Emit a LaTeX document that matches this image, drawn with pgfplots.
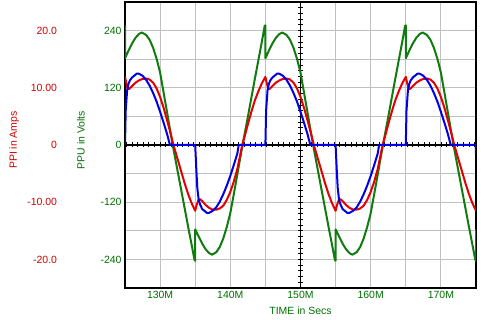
\documentclass[border=0pt]{standalone}
\usepackage{fontspec}
\setmainfont{Liberation Sans}
\usepackage{pgfplots}
\pgfplotsset{compat=1.18}
\definecolor{lred}{RGB}{228,0,0}
\definecolor{tred}{RGB}{204,0,0}
\definecolor{lgreen}{RGB}{16,124,16}
\definecolor{tgreen}{RGB}{0,112,0}
\definecolor{lblue}{RGB}{0,0,230}
\definecolor{gridgray}{RGB}{192,192,192}
\begin{document}
\begin{tikzpicture}[font=\fontsize{10.5}{12.6}\selectfont]
\useasboundingbox (0,0) rectangle (495bp,320bp);
\pgfplotsset{common/.style={at={(125bp,32bp)}, anchor=south west, width=351bp, height=286bp, scale only axis,
  tick label style={font=\fontsize{10.5}{12.6}\selectfont}, label style={font=\fontsize{10.5}{12.6}\selectfont}}}
% grid, frame, volt labels
\begin{axis}[common, xmin=125, xmax=175, ymin=-300, ymax=300,
  xtick={130,140,150,160,170}, xticklabels={130M,140M,150M,160M,170M},
  minor xtick={125,135,145,155,165,175},
  ytick={-240,-120,0,120,240}, yticklabels={-240,-120,0,120,240},
  minor ytick={-300,-180,-60,60,180,300},
  grid=both, grid style={draw=gridgray, line width=0.9bp},
  major grid style={draw=gridgray, line width=0.9bp},
  minor grid style={draw=gridgray, line width=0.9bp},
  major tick length=0pt, minor tick length=0pt,
  tick label style={text=tgreen},
  axis line style={line width=1.2bp, black},
  xlabel={TIME in Secs}, xlabel style={text=tgreen, at={(axis description cs:0.5,0)}, anchor=base, yshift=-26bp},
  ylabel={PPU in Volts}, ylabel style={text=tgreen, at={(axis description cs:-0.1254,0.517)}, anchor=center},
]
\end{axis}
% centre axes with ticks (x shifted so that 150M is 0)
\begin{axis}[common, xmin=-25, xmax=25, ymin=-25, ymax=25,
  axis lines=middle, axis line style={-, line width=1.2bp, black},
  x axis line style={-}, y axis line style={-},
  xtick={-24.8,-24,...,24.8}, ytick={-24,-23,...,24},
  xticklabels={}, yticklabels={},
  major tick length=5bp, tick align=center, tick style={black, line width=0.8bp},
]
\end{axis}
% green: PPU (volts)
\begin{axis}[common, xmin=125, xmax=175, ymin=-300, ymax=300, hide axis]
\addplot[lgreen, line width=2bp, line join=round] coordinates {
(125,251)(125,182)(125.5,198)(126,213)(126.5,225)(127,233)(127.4,236)(128,231)(128.5,221)(129,204)(129.5,181)(130,152)(130.5,110)(131,68)(131.5,25)(131.8,0)(132,-16)(132.5,-55)(133,-94)(133.5,-133)(134,-172)(134.5,-210)(134.9,-241)(135,-243)(135,-177)(135.5,-192)(136,-207)(136.5,-219)(137,-227)(137.4,-230)(138,-225)(138.5,-214)(139,-196)(139.5,-172)(140,-143)(140.5,-103)(141,-62)(141.5,-20)(141.75,0)(142,20)(142.5,59)(143,99)(143.5,139)(144,178)(144.5,217)(144.9,250)(145,251)
(145,182)(145.5,198)(146,213)(146.5,225)(147,233)(147.4,236)(148,231)(148.5,221)(149,204)(149.5,181)(150,152)(150.5,110)(151,68)(151.5,25)(151.8,0)(152,-16)(152.5,-55)(153,-94)(153.5,-133)(154,-172)(154.5,-210)(154.9,-241)(155,-243)(155,-177)(155.5,-192)(156,-207)(156.5,-219)(157,-227)(157.4,-230)(158,-225)(158.5,-214)(159,-196)(159.5,-172)(160,-143)(160.5,-103)(161,-62)(161.5,-20)(161.75,0)(162,20)(162.5,59)(163,99)(163.5,139)(164,178)(164.5,217)(164.9,250)(165,251)
(165,182)(165.5,198)(166,213)(166.5,225)(167,233)(167.4,236)(168,231)(168.5,221)(169,204)(169.5,181)(170,152)(170.5,110)(171,68)(171.5,25)(171.8,0)(172,-16)(172.5,-55)(173,-94)(173.5,-133)(174,-172)(174.5,-210)(174.9,-241)(175,-243)(175,-177)
};
\end{axis}
% red and blue: PPI (amps)
\begin{axis}[common, xmin=125, xmax=175, ymin=-25, ymax=25,
  axis line style={draw=none}, xtick=\empty,
  ytick={-20,-10,0,10,20}, yticklabels={-20.0,-10.00,0,10.00,20.0},
  major tick length=0pt,
  yticklabel style={text=tred, xshift=-64.5bp},
  ylabel={PPI in Amps}, ylabel style={text=tred, at={(axis description cs:-0.316,0.517)}, anchor=center},
]
\addplot[lred, line width=2bp, line join=round] coordinates {
(125,11.9)(125.2,10.8)(125.4,9.8)(125.6,9.8)(126,10.3)(126.5,10.9)(127,11.3)(127.5,11.55)(128.1,11.6)(128.5,11.45)(129,10.9)(129.5,9.9)(130,8.4)(130.5,6.5)(131,4.3)(131.5,2.0)(131.9,0)(132.5,-2.5)(133,-4.6)(133.5,-6.7)(134,-8.6)(134.5,-10.2)(135,-11.5)
(135.2,-10.5)(135.5,-9.5)(135.7,-9.5)(136,-9.8)(136.5,-10.5)(137,-11.0)(137.5,-11.3)(138,-11.3)(138.5,-11.1)(139,-10.6)(139.5,-9.6)(140,-8.2)(140.5,-6.4)(141,-4.2)(141.7,0)(142,1.3)(142.5,3.6)(143,5.8)(143.5,7.8)(144,9.4)(144.5,10.8)(145,11.9)
(145.2,10.8)(145.4,9.8)(145.6,9.8)(146,10.3)(146.5,10.9)(147,11.3)(147.5,11.55)(148.1,11.6)(148.5,11.45)(149,10.9)(149.5,9.9)(150,8.4)(150.5,6.5)(151,4.3)(151.5,2.0)(151.9,0)(152.5,-2.5)(153,-4.6)(153.5,-6.7)(154,-8.6)(154.5,-10.2)(155,-11.5)
(155.2,-10.5)(155.5,-9.5)(155.7,-9.5)(156,-9.8)(156.5,-10.5)(157,-11.0)(157.5,-11.3)(158,-11.3)(158.5,-11.1)(159,-10.6)(159.5,-9.6)(160,-8.2)(160.5,-6.4)(161,-4.2)(161.7,0)(162,1.3)(162.5,3.6)(163,5.8)(163.5,7.8)(164,9.4)(164.5,10.8)(165,11.9)
(165.2,10.8)(165.4,9.8)(165.6,9.8)(166,10.3)(166.5,10.9)(167,11.3)(167.5,11.55)(168.1,11.6)(168.5,11.45)(169,10.9)(169.5,9.9)(170,8.4)(170.5,6.5)(171,4.3)(171.5,2.0)(171.9,0)(172.5,-2.5)(173,-4.6)(173.5,-6.7)(174,-8.6)(174.5,-10.2)(175,-11.5)
};
\addplot[lblue, line width=2bp, line join=round] coordinates {
(125,0)(125.1,6)(125.3,9.5)(125.5,10.7)(125.7,11.3)(126,11.8)(126.7,12.5)(127,12.45)(127.5,12.1)(128,11.4)(128.5,10.4)(129,9.1)(129.5,7.6)(130,5.8)(130.5,3.9)(131,1.9)(131.4,0)(135,0)
(135.15,-4)(135.3,-7.5)(135.5,-9.6)(135.7,-10.4)(136,-11.2)(136.7,-11.9)(137,-11.85)(137.5,-11.5)(138,-10.9)(138.5,-9.9)(139,-8.6)(139.5,-7.1)(140,-5.4)(140.5,-3.5)(141,-1.5)(141.2,0)(145,0)
(145.1,6)(145.3,9.5)(145.5,10.7)(145.7,11.3)(146,11.8)(146.7,12.5)(147,12.45)(147.5,12.1)(148,11.4)(148.5,10.4)(149,9.1)(149.5,7.6)(150,5.8)(150.5,3.9)(151,1.9)(151.4,0)(155,0)
(155.15,-4)(155.3,-7.5)(155.5,-9.6)(155.7,-10.4)(156,-11.2)(156.7,-11.9)(157,-11.85)(157.5,-11.5)(158,-10.9)(158.5,-9.9)(159,-8.6)(159.5,-7.1)(160,-5.4)(160.5,-3.5)(161,-1.5)(161.2,0)(165,0)
(165.1,6)(165.3,9.5)(165.5,10.7)(165.7,11.3)(166,11.8)(166.7,12.5)(167,12.45)(167.5,12.1)(168,11.4)(168.5,10.4)(169,9.1)(169.5,7.6)(170,5.8)(170.5,3.9)(171,1.9)(171.4,0)(175,0)(175,-1.5)
};
\end{axis}
\end{tikzpicture}
\end{document}
